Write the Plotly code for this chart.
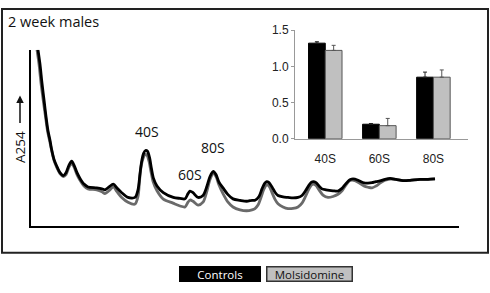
import plotly.graph_objects as go

W, H = 490, 293

# ---- profile data (gradient position, A254 arbitrary units) ----
ctrl_x = [7, 9, 11, 13.3, 15, 17, 19, 20.7, 23, 25.7, 29, 32.3, 35, 38, 40.7, 43, 46, 49, 53, 57,
          65.7, 71, 74, 78, 82.3, 86, 90.7, 97, 104, 107, 109, 110.7, 112.5, 114.5, 116.5, 118.5,
          120.5, 122.5, 126, 132.3, 142.3, 149, 154, 157, 159, 162, 167, 172, 176, 179, 182.3, 185,
          188, 192, 197, 202, 209, 215.7, 221,
          224, 228, 231, 233.5, 235.7, 238, 241, 244, 247, 252, 257, 262, 267, 271, 274.5, 278,
          280.5, 282.3, 285, 288, 291, 295, 302, 307, 311, 314.5, 318, 320.7, 324, 328, 333, 337,
          341, 345, 349, 354, 359, 365, 372, 379, 389, 397, 404]
ctrl_y = [185, 170, 150, 130, 115, 100, 90, 80, 70, 63, 56, 53, 56, 64, 68, 64, 56, 50, 44, 41,
          40, 39, 38, 41, 44, 40, 35, 30, 30, 38, 55, 68, 76, 79.3, 78.5, 72,
          60, 50, 42, 35, 30, 29, 28.5, 34, 36.7, 35, 30, 32, 42, 52, 57.3, 54,
          46, 40, 33, 28.5, 27, 26, 27,
          27, 31, 39, 44.5, 46.7, 45.5, 41, 35.5, 32, 30.5, 30, 29.5, 30, 32, 37, 43,
          46, 46.7, 45.5, 42, 39, 38, 37, 36.7, 39.5, 44, 48, 49.3, 49.2, 47.5, 45.2, 45,
          45.5, 46.7, 47.3, 49, 50, 49, 47.7, 48, 49, 49, 49.5]

mols_x = [6, 8, 10, 12.5, 14.5, 16.5, 18.5, 20.5, 23, 26, 29, 32.3, 35, 38, 40.7, 43, 46, 49, 53, 57,
          65.7, 71, 74, 78, 82.3, 86, 90.7, 97, 104, 107, 108.5, 110, 112, 114, 116, 118,
          120, 122, 126, 132.3, 142, 149, 154, 157, 159, 162, 167, 172, 176, 179, 182.3, 185,
          188, 192, 197, 202, 209, 215.7, 221,
          224, 227, 230, 233, 235.7, 238, 241, 244, 247, 252, 257, 262, 267, 271, 274.5, 278,
          280.5, 282.3, 285, 288, 292, 297, 302, 307, 311, 314.5, 318, 320.7, 324, 328, 333, 337,
          341, 345, 349, 354, 359, 365, 372, 379, 389, 397, 404]
mols_y = [185, 170, 150, 130, 115, 100, 90, 80, 69, 61, 55, 52, 54, 62, 66, 62, 54, 48, 42, 39,
          38, 36, 34, 37, 41, 36, 30, 25, 23, 31, 47, 62, 71, 75, 74.3, 68,
          57, 47, 37, 28.3, 24, 21, 20, 25, 27.3, 26, 22, 25, 37, 49, 55, 52,
          43, 34, 25, 20, 17, 16, 17,
          18.3, 22, 30, 39, 43.3, 42, 35, 28, 23.3, 20, 18.3, 18.5, 20, 24, 31, 39,
          43, 44, 42.5, 38, 32.5, 30, 31, 33.3, 37, 42.5, 47, 48.3, 47.7, 45.5, 42, 40.7,
          40, 42, 45, 48, 49.3, 49, 47.7, 48, 49, 49, 49.5]

peak_labels = ["40S", "60S", "80S"]
peak_x = [115.7, 159, 182.3]
peak_y = [87, 42, 70]

# ---- inset bar data ----
categories = ["40S", "60S", "80S"]
ctrl_vals = [1.32, 0.20, 0.85]
ctrl_err = [0.02, 0.01, 0.07]
mols_vals = [1.22, 0.18, 0.85]
mols_err = [0.07, 0.10, 0.10]
inset_ticks = [0, 0.5, 1.0, 1.5]
inset_ticktext = ["0.0", "0.5", "1.0", "1.5"]

series_names = ["Controls", "Molsidomine"]
title_text = "2 week males"
ylabel_text = "A254"

BLACK = "#000000"
DARK_GRAY = "#6a6a6a"
LIGHT_GRAY = "#c0c0c0"

fig = go.Figure()

fig.add_trace(go.Scatter(x=mols_x, y=mols_y, mode="lines", name=series_names[1],
                         line=dict(color=DARK_GRAY, width=2.8, shape="spline", smoothing=0.8),
                         xaxis="x", yaxis="y", showlegend=False))
fig.add_trace(go.Scatter(x=ctrl_x, y=ctrl_y, mode="lines", name=series_names[0],
                         line=dict(color=BLACK, width=2.8, shape="spline", smoothing=0.8),
                         xaxis="x", yaxis="y", showlegend=False))

fig.add_trace(go.Bar(x=categories, y=ctrl_vals, name=series_names[0],
                     marker=dict(color=BLACK, line=dict(color=BLACK, width=1)),
                     error_y=dict(type="data", array=ctrl_err, symmetric=False, arrayminus=[0, 0, 0],
                                  color="#222222", thickness=1, width=2),
                     xaxis="x2", yaxis="y2", showlegend=False))
fig.add_trace(go.Bar(x=categories, y=mols_vals, name=series_names[1],
                     marker=dict(color=LIGHT_GRAY, line=dict(color="#555555", width=1)),
                     error_y=dict(type="data", array=mols_err, symmetric=False, arrayminus=[0, 0, 0],
                                  color="#555555", thickness=1, width=2),
                     xaxis="x2", yaxis="y2", showlegend=False))

MAIN_FONT = "Open Sans, Noto Sans, sans-serif"
ARIAL = "Liberation Sans, Arial, sans-serif"

annotations = []
for lab, px_, py_ in zip(peak_labels, peak_x, peak_y):
    annotations.append(dict(x=px_, y=py_, xref="x", yref="y", text=lab, showarrow=False,
                            font=dict(family=MAIN_FONT, size=14, color="#111"),
                            xanchor="center", yanchor="bottom"))

annotations.append(dict(x=6 / W, y=1 - 15 / H, xref="paper", yref="paper", text=title_text,
                        showarrow=False, xanchor="left", yanchor="middle",
                        font=dict(family=MAIN_FONT, size=14.5, color="#111")))
annotations.append(dict(x=20 / W, y=1 - 147 / H, xref="paper", yref="paper", text=ylabel_text,
                        showarrow=False, textangle=-90, xanchor="center", yanchor="middle",
                        font=dict(family=MAIN_FONT, size=13.5, color="#111")))
annotations.append(dict(x=20 / W, y=1 - 93 / H, xref="paper", yref="paper", text="",
                        showarrow=True, ax=0, ay=29, arrowhead=2, arrowsize=1, arrowwidth=1.5,
                        arrowcolor="#111"))

# legend boxes
annotations.append(dict(x=220 / W, y=1 - 280 / H, xref="paper", yref="paper", text=series_names[0],
                        showarrow=False, xanchor="center", yanchor="middle",
                        width=80, height=14, bgcolor=BLACK, bordercolor=BLACK, borderwidth=1,
                        borderpad=0, font=dict(family=MAIN_FONT, size=11.5, color="white")))
annotations.append(dict(x=309 / W, y=1 - 280 / H, xref="paper", yref="paper", text=series_names[1],
                        showarrow=False, xanchor="center", yanchor="middle",
                        width=84, height=13, bgcolor=LIGHT_GRAY, bordercolor="#333", borderwidth=1.5,
                        borderpad=0, font=dict(family=MAIN_FONT, size=11.5, color="#111")))

shapes = [dict(type="rect", xref="paper", yref="paper", x0=2 / W, x1=488 / W,
               y0=1 - 258 / H, y1=1 - 2 / H, line=dict(color="#222", width=2))]

fig.update_layout(
    width=W, height=H, margin=dict(l=0, r=0, t=0, b=0),
    paper_bgcolor="white", plot_bgcolor="rgba(0,0,0,0)",
    barmode="group", bargap=0.38, bargroupgap=0,
    xaxis=dict(domain=[31 / W, 459 / W], range=[0, 428], showline=True, linecolor=BLACK,
               linewidth=2, showgrid=False, zeroline=False, showticklabels=False, ticks=""),
    yaxis=dict(domain=[1 - 230 / H, 1 - 45 / H], range=[0, 185], showline=True, linecolor=BLACK,
               linewidth=2, showgrid=False, zeroline=False, showticklabels=False, ticks=""),
    xaxis2=dict(domain=[295 / W, 468 / W], range=[-0.56, 2.64], anchor="y2", type="category",
                showline=True, linecolor="#999", linewidth=1, showgrid=False, zeroline=False,
                ticks="outside", ticklen=9, tickcolor="rgba(0,0,0,0)",
                tickfont=dict(family=ARIAL, size=12, color="#222")),
    yaxis2=dict(domain=[1 - 138.3 / H, 1 - 24.3 / H], range=[0, 1.5], anchor="x2",
                showline=True, linecolor="#999", linewidth=1, showgrid=False, zeroline=False,
                tickvals=inset_ticks, ticktext=inset_ticktext, ticks="outside", ticklen=3,
                tickcolor="#999", tickfont=dict(family=ARIAL, size=12, color="#222")),
    annotations=annotations, shapes=shapes,
)

fig.write_html("out.html", config={"displayModeBar": False},
               post_script="document.body.style.margin='0';document.body.style.overflow='hidden';")
